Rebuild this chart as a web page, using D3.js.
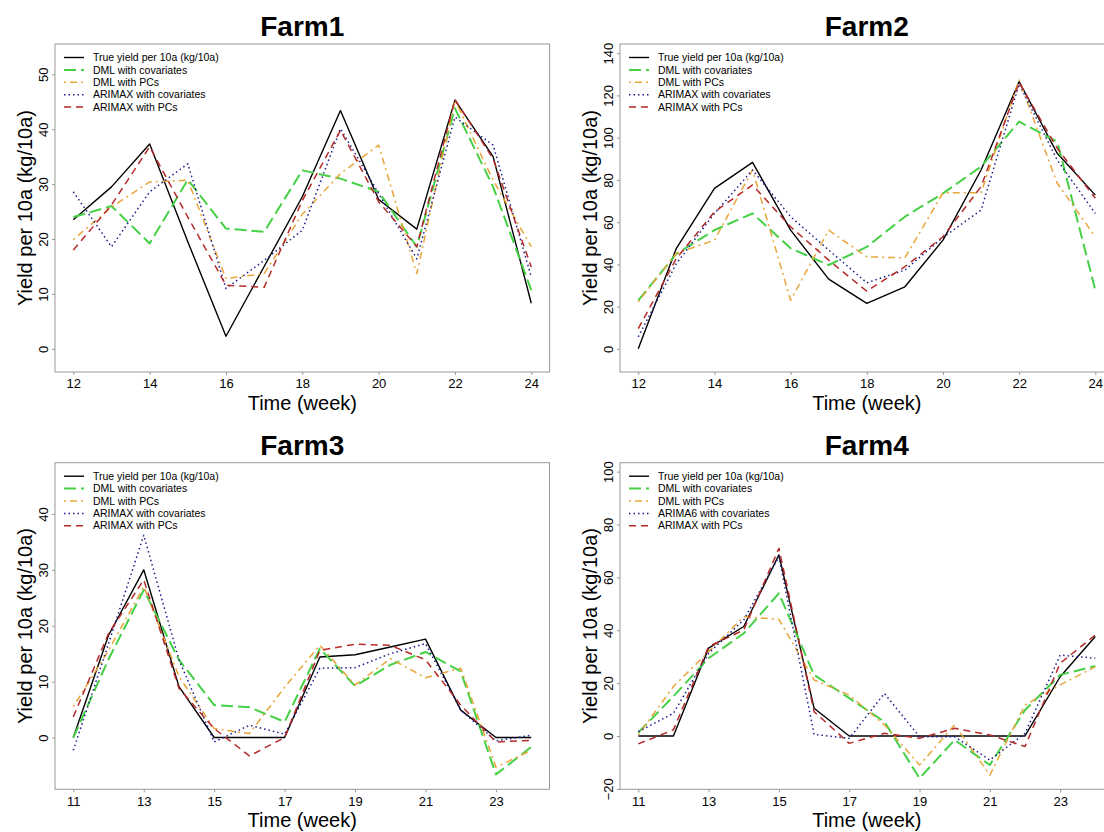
<!DOCTYPE html>
<html>
<head>
<meta charset="utf-8">
<script src="https://cdn.jsdelivr.net/npm/d3@7"></script>
<style>
  body { margin: 0; background: #fff; }
  svg { display: block; }
  text { font-family: "Liberation Sans", Arial, sans-serif; fill: #000; }
</style>
</head>
<body>
<div id="chart"></div>
<script>
var width  = 1104;
var height = 832;

// Weeks on the x axis
var weeksA = [12, 13, 14, 15, 16, 17, 18, 19, 20, 21, 22, 23, 24];
var weeksB = [11, 12, 13, 14, 15, 16, 17, 18, 19, 20, 21, 22, 23, 24];

// Farm1 (weeks 12-24)
var farm1True    = [23.5, 29.5, 37.3, 19.5, 2.3, 15.0, 27.7, 43.4, 27.2, 21.8, 45.3, 35.0, 8.3];
var farm1DmlCov  = [24.0, 26.0, 19.2, 30.8, 21.9, 21.3, 32.5, 31.0, 28.6, 18.6, 43.8, 29.5, 10.7];
var farm1DmlPc   = [19.9, 25.8, 30.4, 30.7, 12.8, 13.7, 24.5, 31.9, 37.1, 13.7, 45.3, 30.7, 18.6];
var farm1ArimaCov= [28.6, 18.6, 28.6, 33.7, 11.0, 16.1, 21.6, 40.1, 28.3, 16.4, 42.2, 37.1, 13.1];
var farm1ArimaPc = [18.0, 26.2, 36.8, 24.0, 11.6, 11.2, 27.0, 39.8, 26.8, 18.6, 45.4, 34.6, 14.9];

// Farm2 (weeks 12-24)
var farm2True    = [0.0, 47.6, 76.0, 88.3, 56.2, 33.0, 21.5, 29.4, 51.5, 84.7, 126.6, 92.6, 72.8];
var farm2DmlCov  = [23.0, 45.0, 56.2, 64.1, 47.6, 39.7, 48.3, 62.6, 73.6, 86.3, 107.6, 98.1, 27.8];
var farm2DmlPc   = [22.3, 45.2, 51.5, 84.7, 23.0, 56.2, 43.6, 43.1, 73.9, 73.9, 127.3, 78.4, 53.1];
var farm2ArimaCov= [5.7, 40.4, 64.1, 84.7, 62.6, 46.8, 31.3, 37.3, 52.8, 65.7, 125.4, 89.4, 64.1];
var farm2ArimaPc = [9.6, 42.8, 64.9, 77.6, 57.8, 42.0, 27.3, 38.9, 53.1, 76.8, 126.1, 95.0, 71.3];

// Farm3 (weeks 11-24)
var farm3True    = [0.0, 18.3, 30.0, 9.1, 0.0, 0.0, 0.0, 14.4, 14.8, 16.2, 17.6, 4.9, 0.0, 0.0];
var farm3DmlCov  = [0.0, 14.0, 26.4, 13.9, 5.8, 5.4, 2.8, 15.9, 9.2, 13.0, 15.3, 11.8, -6.6, -1.7];
var farm3DmlPc   = [5.5, 15.6, 27.0, 10.9, 1.6, 0.7, 9.0, 16.5, 9.4, 14.1, 10.7, 12.4, -5.3, -2.3];
var farm3ArimaCov= [-2.3, 16.8, 36.2, 13.9, -0.8, 2.2, 0.6, 12.4, 12.5, 15.0, 16.8, 4.9, -0.6, 0.4];
var farm3ArimaPc = [3.7, 18.6, 28.2, 8.8, 1.6, -3.3, 0.0, 15.6, 16.7, 16.5, 13.9, 5.8, -0.8, -0.5];

// Farm4 (weeks 11-24)
var farm4True    = [0.0, 0.0, 33.2, 41.4, 68.5, 10.5, 0.0, 0.0, 0.0, 0.0, 0.0, 0.0, 22.4, 37.6];
var farm4DmlCov  = [1.3, 15.0, 29.4, 38.8, 54.0, 23.1, 14.3, 5.4, -16.0, -1.5, -11.0, 9.8, 23.1, 26.5];
var farm4DmlPc   = [0.4, 18.7, 31.9, 45.1, 44.1, 21.2, 15.5, 4.2, -11.0, 4.2, -14.8, 11.7, 19.3, 26.2];
var farm4ArimaCov= [1.6, 8.6, 31.3, 43.9, 67.8, 0.6, -0.9, 16.1, -0.3, -0.3, -9.1, 1.0, 30.6, 29.4];
var farm4ArimaPc = [-3.0, 2.3, 33.8, 40.1, 71.0, 9.2, -2.8, 1.0, -0.9, 2.9, 0.4, -4.0, 27.5, 38.2];

// Tick labels
var xTicksA = [12, 14, 16, 18, 20, 22, 24];
var xTicksB = [11, 13, 15, 17, 19, 21, 23];
var yTicks1 = [0, 10, 20, 30, 40, 50];
var yTicks2 = [0, 20, 40, 60, 80, 100, 120, 140];
var yTicks3 = [0, 10, 20, 30, 40];
var yTicks4 = [-20, 0, 20, 40, 60, 80, 100];

// y limits (before the usual 4% padding)
var yLim1 = [-2.0, 53.3];
var yLim2 = [-5.2, 138.6];
var yLim3 = [-7.1, 47.0];
var yLim4 = [-15.6, 98.8];

var titles = ["Farm1", "Farm2", "Farm3", "Farm4"];
var legendLabels = ["True yield per 10a (kg/10a)", "DML with covariates", "DML with PCs",
                    "ARIMAX with covariates", "ARIMAX with PCs"];
var legendLabels4 = ["True yield per 10a (kg/10a)", "DML with covariates", "DML with PCs",
                     "ARIMA6 with covariates", "ARIMAX with PCs"];

// Line styles for the five series
var styles = [
  { color: "#000000", width: 1.4, dash: null },
  { color: "#45d045", width: 2,   dash: "12,5" },
  { color: "#e8a53a", width: 1.5, dash: "2,4,7,4" },
  { color: "#1c1c8c", width: 1.5, dash: "1.5,3" },
  { color: "#b52a2a", width: 1.5, dash: "7,5" }
];

var panels = [
  { title: titles[0], weeks: weeksA, xTicks: xTicksA, yTicks: yTicks1, yLim: yLim1, legend: legendLabels,
    series: [farm1True, farm1DmlCov, farm1DmlPc, farm1ArimaCov, farm1ArimaPc],
    box: { x: 55, y: 44, w: 494.6, h: 328 } },
  { title: titles[1], weeks: weeksA, xTicks: xTicksA, yTicks: yTicks2, yLim: yLim2, legend: legendLabels,
    series: [farm2True, farm2DmlCov, farm2DmlPc, farm2ArimaCov, farm2ArimaPc],
    box: { x: 620, y: 44, w: 493.6, h: 328 } },
  { title: titles[2], weeks: weeksB, xTicks: xTicksB, yTicks: yTicks3, yLim: yLim3, legend: legendLabels,
    series: [farm3True, farm3DmlCov, farm3DmlPc, farm3ArimaCov, farm3ArimaPc],
    box: { x: 55, y: 462.7, w: 494.5, h: 326.6 } },
  { title: titles[3], weeks: weeksB, xTicks: xTicksB, yTicks: yTicks4, yLim: yLim4, legend: legendLabels4,
    series: [farm4True, farm4DmlCov, farm4DmlPc, farm4ArimaCov, farm4ArimaPc],
    box: { x: 620, y: 462.7, w: 493.6, h: 326.6 } }
];

// R style 4% padding of a range
function pad(lo, hi) {
  var d = (hi - lo) * 0.04;
  return [lo - d, hi + d];
}

var svg = d3.select("#chart")
  .append("svg")
  .attr("width", width)
  .attr("height", height);

panels.forEach(function(p) {
  var b = p.box;
  var x = d3.scaleLinear()
    .domain(pad(d3.min(p.weeks), d3.max(p.weeks)))
    .range([b.x, b.x + b.w]);
  var y = d3.scaleLinear()
    .domain(pad(p.yLim[0], p.yLim[1]))
    .range([b.y + b.h, b.y]);

  var g = svg.append("g");

  // Title
  g.append("text")
    .attr("x", b.x + b.w / 2)
    .attr("y", b.y - 8)
    .attr("text-anchor", "middle")
    .style("font-size", "28px")
    .style("font-weight", "bold")
    .text(p.title);

  // Clip the lines to the box
  var clipId = "clip" + p.title;
  svg.append("clipPath").attr("id", clipId)
    .append("rect")
    .attr("x", b.x).attr("y", b.y).attr("width", b.w).attr("height", b.h);

  var line = d3.line()
    .x(function(d, i) { return x(p.weeks[i]); })
    .y(function(d) { return y(d); });

  var lines = g.append("g").attr("clip-path", "url(#" + clipId + ")");
  p.series.forEach(function(s, k) {
    lines.append("path")
      .datum(s)
      .attr("d", line)
      .attr("fill", "none")
      .attr("stroke", styles[k].color)
      .attr("stroke-width", styles[k].width)
      .attr("stroke-dasharray", styles[k].dash)
      .attr("stroke-linejoin", "round");
  });

  // Box
  g.append("rect")
    .attr("x", b.x).attr("y", b.y)
    .attr("width", b.w).attr("height", b.h)
    .attr("fill", "none")
    .attr("stroke", "#9a9a9a")
    .attr("stroke-width", 1);

  // x axis
  var xAxis = d3.axisBottom(x).tickValues(p.xTicks).tickSize(3).tickPadding(4);
  var gx = g.append("g")
    .attr("transform", "translate(0," + (b.y + b.h) + ")")
    .call(xAxis);
  gx.select(".domain").remove();
  gx.selectAll(".tick line").attr("stroke", "#9a9a9a");
  gx.selectAll(".tick text")
    .style("font-size", "13px")
    .style("font-family", "'Liberation Sans', Arial, sans-serif")
    .attr("fill", "#222");

  // y axis with rotated labels
  var yAxis = d3.axisLeft(y).tickValues(p.yTicks).tickSize(3).tickFormat(d3.format("d"));
  var gy = g.append("g")
    .attr("transform", "translate(" + b.x + ",0)")
    .call(yAxis);
  gy.select(".domain").remove();
  gy.selectAll(".tick line").attr("stroke", "#9a9a9a");
  gy.selectAll(".tick text")
    .attr("x", null).attr("dy", null)
    .attr("text-anchor", "middle")
    .attr("transform", "translate(-7,0) rotate(-90)")
    .style("font-size", "13px")
    .style("font-family", "'Liberation Sans', Arial, sans-serif")
    .attr("fill", "#222");

  // Axis titles
  g.append("text")
    .attr("x", b.x + b.w / 2)
    .attr("y", b.y + b.h + 38)
    .attr("text-anchor", "middle")
    .style("font-size", "20px")
    .text("Time (week)");

  g.append("text")
    .attr("transform", "translate(" + (b.x - 23) + "," + (b.y + b.h / 2) + ") rotate(-90)")
    .attr("text-anchor", "middle")
    .style("font-size", "20px")
    .text("Yield per 10a (kg/10a)");

  // Legend
  var lg = g.append("g")
    .attr("transform", "translate(" + (b.x + 9) + "," + (b.y + 13.5) + ")");
  p.legend.forEach(function(label, k) {
    var row = lg.append("g").attr("transform", "translate(0," + (k * 12.4) + ")");
    row.append("line")
      .attr("x1", 0).attr("x2", 20)
      .attr("stroke", styles[k].color)
      .attr("stroke-width", styles[k].width)
      .attr("stroke-dasharray", styles[k].dash);
    row.append("text")
      .attr("x", 29)
      .attr("dy", "0.35em")
      .style("font-size", "10.5px")
      .attr("fill", "#222")
      .text(label);
  });
});
</script>
</body>
</html>
